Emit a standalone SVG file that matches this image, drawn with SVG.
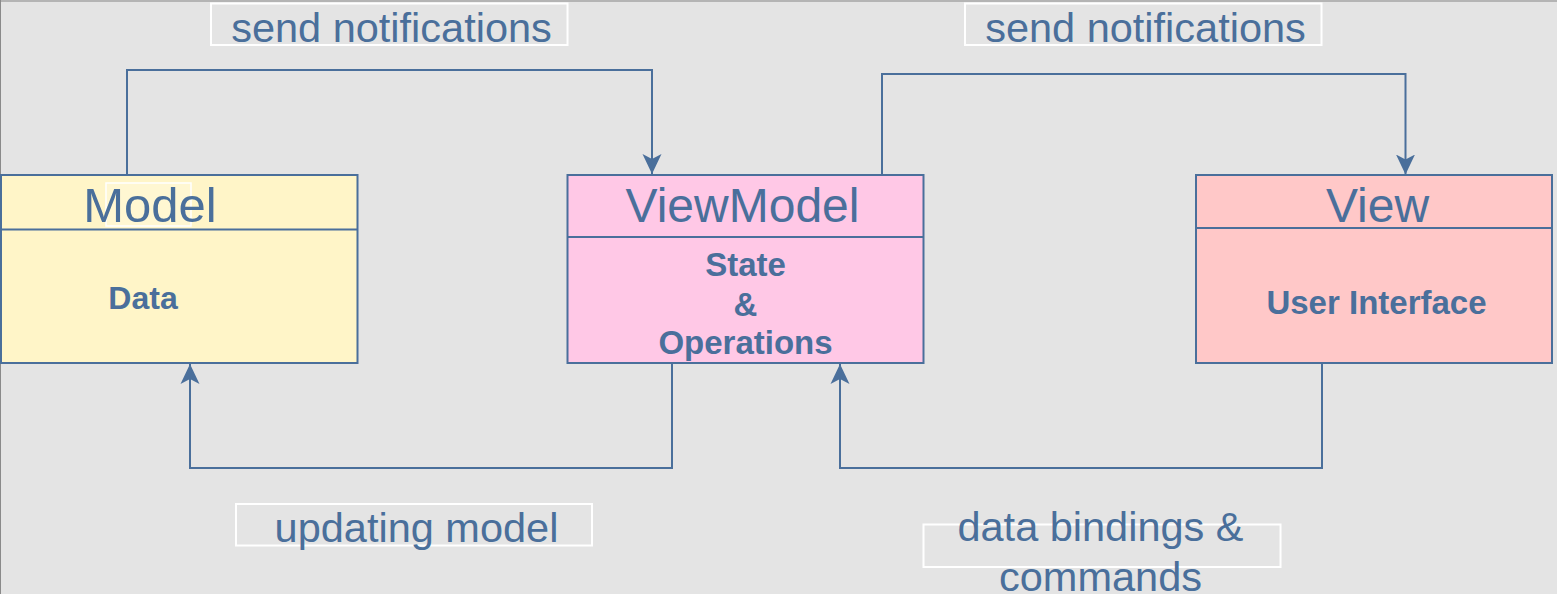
<svg xmlns="http://www.w3.org/2000/svg" width="1557" height="594" viewBox="0 0 1557 594">
<defs>
<style>
.box{stroke:#4a6f9b;stroke-width:2}
.title{font-family:"Liberation Sans",Arial,sans-serif;font-size:48px;fill:#4a6f9b;text-anchor:middle}
.body{font-family:"Liberation Sans",Arial,sans-serif;font-size:33px;font-weight:bold;fill:#4a6f9b;text-anchor:middle}
.lbl{font-family:"Liberation Sans",Arial,sans-serif;font-size:41.5px;fill:#4a6f9b;text-anchor:middle}
.lblbox{fill:none;stroke:#ffffff;stroke-width:2}
.conn{fill:none;stroke:#4a6f9b;stroke-width:2}
</style>
<marker id="arr" markerUnits="userSpaceOnUse" viewBox="0 0 20 20" markerWidth="20" markerHeight="20" refX="20" refY="10" orient="auto">
<path d="M20,10 L0,0.5 L5,10 L0,19.5 Z" fill="#4a6f9b"/>
</marker>
</defs>
<rect x="0" y="0" width="1557" height="594" fill="#e4e4e4"/>
<line x1="0" y1="1" x2="1557" y2="1" stroke="#b4b4b4" stroke-width="2"/>
<line x1="0.5" y1="0" x2="0.5" y2="594" stroke="#8a8a8a" stroke-width="1"/>

<g id="model">
<rect class="box" x="1" y="175" width="356.5" height="188" fill="#fff5c8"/>
<line class="box" x1="1" y1="229.5" x2="357.5" y2="229.5"/>
<rect x="106" y="183" width="85" height="43" fill="#fff7d2" stroke="#ffffff" stroke-width="1.5"/>
<text class="title" x="150" y="222" style="font-size:49px">Model</text>
<text class="body" x="143" y="309" style="font-size:32px">Data</text>
</g>

<g id="viewmodel">
<rect class="box" x="567.5" y="175" width="356" height="188" fill="#ffc8e6"/>
<line class="box" x1="567.5" y1="237" x2="923.5" y2="237"/>
<text class="title" x="742.5" y="221.5">ViewModel</text>
<text class="body" x="745.5" y="276">State</text>
<text class="body" x="745.5" y="316">&amp;</text>
<text class="body" x="745.5" y="354">Operations</text>
</g>

<g id="view">
<rect class="box" x="1196" y="175" width="356" height="188" fill="#ffc8c8"/>
<line class="box" x1="1196" y1="228" x2="1552" y2="228"/>
<text class="title" x="1377.5" y="221.5">View</text>
<text class="body" x="1376.5" y="313.5">User Interface</text>
</g>

<g id="connectors">
<path class="conn" d="M127,175 V70 H652 V174" marker-end="url(#arr)"/>
<path class="conn" d="M882,175 V74 H1405.5 V174.5" marker-end="url(#arr)"/>
<path class="conn" d="M672,363 V468 H190 V364" marker-end="url(#arr)"/>
<path class="conn" d="M1322,363 V468 H840 V364" marker-end="url(#arr)"/>
</g>

<g id="label-send1">
<rect class="lblbox" x="211" y="3.5" width="356.5" height="41.5"/>
<text class="lbl" x="391.5" y="41.5">send notifications</text>
</g>
<g id="label-send2">
<rect class="lblbox" x="965" y="3.5" width="356.5" height="41.5"/>
<text class="lbl" x="1145.5" y="41.5">send notifications</text>
</g>
<g id="label-update">
<rect class="lblbox" x="236" y="504" width="356" height="41.5"/>
<text class="lbl" x="416.5" y="541.5">updating model</text>
</g>
<g id="label-bindings">
<rect class="lblbox" x="923.5" y="524.5" width="357" height="42.5"/>
<text class="lbl" x="1100.5" y="540.5">data bindings &amp;</text>
<text class="lbl" x="1100.5" y="591">commands</text>
</g>
</svg>
